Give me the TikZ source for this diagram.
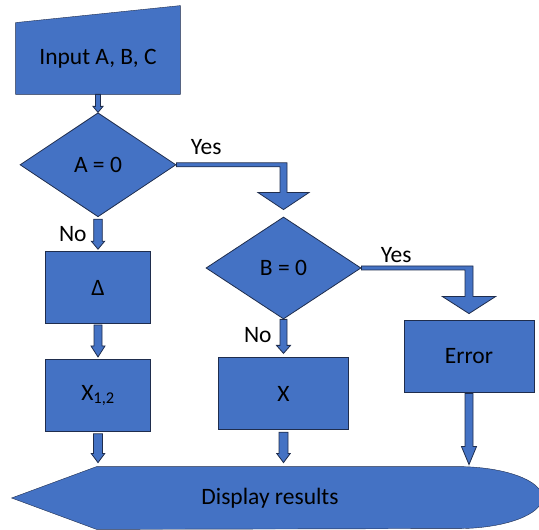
\documentclass[tikz,border=0pt]{standalone}
\usepackage{fontspec}
\setmainfont{Carlito}
\usetikzlibrary{positioning, shapes.geometric, backgrounds, calc}

\definecolor{flowblue}{HTML}{4472C4}
\definecolor{flowline}{HTML}{1F2D4D}

\begin{document}
\begin{tikzpicture}[
  x=1pt, y=1pt,           % 座標はpt単位
  line width=0.8pt,
  font=\fontsize{23.5}{28}\selectfont,
  shapefill/.style={draw=flowline, fill=flowblue},
  box/.style={shapefill, rectangle, minimum width=105pt, minimum height=72pt},
  decision/.style={shapefill, diamond, inner sep=0pt, minimum width=156pt, minimum height=104pt},
  lbl/.style={inner sep=0pt},
  % ブロック矢印の寸法
  shaft/.store in=\shaft, tipwidth/.store in=\tipwidth, tiplength/.store in=\tiplength,
  shaft=4pt, tipwidth=7pt, tiplength=10pt,
  blockarrow/.style={shapefill, to path={let \p1=(\tikztostart), \p2=(\tikztotarget) in
      (\x1-\shaft,\y1) -- (\x1+\shaft,\y1) -- (\x1+\shaft,\y2+\tiplength)
      -- (\x1+\tipwidth,\y2+\tiplength) -- (\x1,\y2) -- (\x1-\tipwidth,\y2+\tiplength)
      -- (\x1-\shaft,\y2+\tiplength) -- cycle}},
  % 横に出て下へ曲がる矢印
  bentarrow/.style={shapefill, to path={let \p1=(\tikztostart), \p2=(\tikztotarget) in
      (\x1,\y1+2pt) -- (\x2+\shaft,\y1+2pt) -- (\x2+\shaft,\y2+\tiplength)
      -- (\x2+\tipwidth,\y2+\tiplength) -- (\x2,\y2) -- (\x2-\tipwidth,\y2+\tiplength)
      -- (\x2-\shaft,\y2+\tiplength) -- (\x2-\shaft,\y1-2pt) -- (\x1,\y1-2pt) -- cycle}}
  ]
  \useasboundingbox (0,0) rectangle (539,530);

  % --- 入力 ---
  \node [lbl, minimum width=164pt, minimum height=71pt] (inp) at (98,471.5) {Input A, B, C};
  \begin{scope}[on background layer]
    \draw [shapefill] (inp.south west) -- (inp.north west) -- ([yshift=17pt]inp.north east) -- (inp.south east) -- cycle;
  \end{scope}

  % --- 左の列 (A = 0) ---
  \node [decision, below=18pt of inp] (dA) {A = 0};
  \node [box, below=34pt of dA] (delta) {Δ};
  \node [box, below=35pt of delta] (x12) {X\textsubscript{1,2}};

  % --- 中央の列 (B = 0) ---
  \node [decision, minimum width=155pt, minimum height=102pt] (dB) at (283.5,262) {B = 0};
  \node [box, minimum width=130pt, below=38pt of dB] (xb) {X};

  % --- 右の列 ---
  \node [box, minimum width=130pt] (err) at (469,174) {Error};

  % --- 出力 ---
  \node [lbl, minimum width=346pt, minimum height=62pt] (disp) at (270,32) {Display results};
  \begin{scope}[on background layer]
    \draw [shapefill] ([xshift=-85pt]disp.west) -- (disp.north west) -- (disp.north east) -- ++(14,0)
      arc [start angle=90, end angle=-90, x radius=85pt, y radius=31pt] -- (disp.south west) -- cycle;
  \end{scope}

  % --- 矢印 ---
  \draw [blockarrow, shaft=2.5pt, tipwidth=5pt, tiplength=6pt] (inp.south) to (dA.north);
  \draw [blockarrow, shaft=4.3pt, tipwidth=6.7pt, tiplength=8pt] ([yshift=-2pt]dA.south) to ([yshift=2pt]delta.north);
  \draw [blockarrow, tiplength=11pt] ([yshift=-1pt]delta.south) to ([yshift=2pt]x12.north);
  \draw [blockarrow, shaft=4.5pt, tipwidth=6.7pt, tiplength=9pt] ([yshift=-2pt]x12.south) to ([yshift=4pt]x12.south |- disp.north);
  \draw [blockarrow, shaft=3.5pt, tiplength=8pt] (dB.south) to ([yshift=4pt]xb.north);
  \draw [blockarrow, shaft=4.5pt, tipwidth=6.7pt, tiplength=9pt] ([yshift=-2pt]xb.south) to ([yshift=4pt]xb.south |- disp.north);
  \draw [blockarrow, tipwidth=7.5pt, tiplength=18pt] ([yshift=-1pt]err.south) to ([yshift=2pt]err.south |- disp.north);
  \draw [bentarrow, shaft=3.5pt, tipwidth=25.5pt, tiplength=17pt] (dA.east) to ([yshift=7pt]dB.north);
  \draw [bentarrow, shaft=4pt, tipwidth=26.5pt, tiplength=17pt] (dB.east) to ([yshift=6pt]err.north);

  % --- 分岐ラベル ---
  \node [lbl, above right=10pt and 14pt of dA.east] (yesA) {Yes};
  \node [lbl, below left=8.5pt and 11pt of dA.south] (noA) {No};
  \node [lbl, above right=5pt and 19pt of dB.east] (yesB) {Yes};
  \node [lbl, below left=8pt and 11.5pt of dB.south] (noB) {No};

\end{tikzpicture}
\end{document}
